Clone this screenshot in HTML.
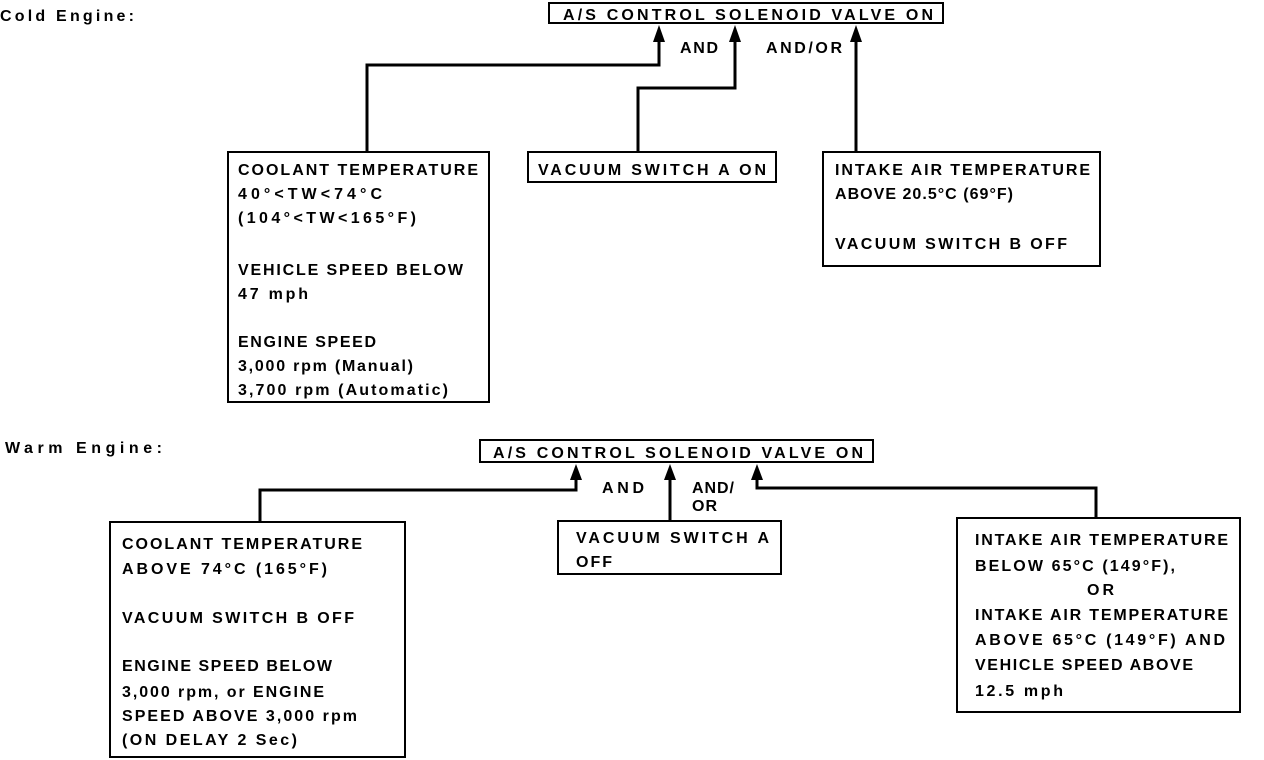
<!DOCTYPE html>
<html><head><meta charset="utf-8"><style>
body{margin:0;background:#fff}
svg{display:block}
text{font-family:"Liberation Sans",sans-serif;font-weight:bold;font-size:16px;fill:#000}
</style></head><body>
<svg width="1264" height="760" viewBox="0 0 1264 760" xmlns="http://www.w3.org/2000/svg">
<defs><marker id="a" markerWidth="8" markerHeight="12" refX="4" refY="1" orient="auto" markerUnits="userSpaceOnUse" viewBox="0 0 8 12">
</marker></defs>
<g fill="none" stroke="#000" stroke-width="2">
<rect x="549" y="3" width="394" height="20"/>
<rect x="228" y="152" width="261" height="250"/>
<rect x="528" y="152" width="248" height="30"/>
<rect x="823" y="152" width="277" height="114"/>
<rect x="480" y="440" width="393" height="22"/>
<rect x="110" y="522" width="295" height="235"/>
<rect x="558" y="521" width="223" height="53"/>
<rect x="957" y="518" width="283" height="194"/>
</g>
<g fill="none" stroke="#000" stroke-width="3">
<polyline points="367,152 367,65 659,65 659,38"/>
<polyline points="638,152 638,88 735,88 735,38"/>
<polyline points="856,152 856,38"/>
<polyline points="260,522 260,490 576,490 576,475"/>
<polyline points="670,521 670,475"/>
<polyline points="1096,518 1096,488 757,488 757,475"/>
</g>
<g fill="#000">
<polygon points="659,25 653,42 665,42"/>
<polygon points="735,25 729,42 741,42"/>
<polygon points="856,25 850,42 862,42"/>
<polygon points="576,464 570,480 582,480"/>
<polygon points="670,464 664,480 676,480"/>
<polygon points="757,464 751,480 763,480"/>
</g>
<text x="0" y="21" font-size="17" textLength="134">Cold Engine:</text>
<text x="5" y="453" font-size="17" textLength="157">Warm Engine:</text>
<text x="563" y="20" font-size="18" textLength="370">A/S CONTROL SOLENOID VALVE ON</text>
<text x="493" y="458" font-size="18" textLength="370">A/S CONTROL SOLENOID VALVE ON</text>
<text x="680" y="53" textLength="38">AND</text>
<text x="766" y="53" textLength="76">AND/OR</text>
<text x="602" y="493" textLength="42">AND</text>
<text x="692" y="493" textLength="42">AND/</text>
<text x="692" y="511" textLength="25">OR</text>
<g>
<text x="238" y="175" textLength="240">COOLANT TEMPERATURE</text>
<text x="238" y="199" textLength="144">40°&lt;TW&lt;74°C</text>
<text x="238" y="223" textLength="178">(104°&lt;TW&lt;165°F)</text>
<text x="238" y="275" textLength="225">VEHICLE SPEED BELOW</text>
<text x="238" y="299" textLength="70">47 mph</text>
<text x="238" y="347" textLength="138">ENGINE SPEED</text>
<text x="238" y="371" textLength="175">3,000 rpm (Manual)</text>
<text x="238" y="395" textLength="210">3,700 rpm (Automatic)</text>
<text x="538" y="175" textLength="228">VACUUM SWITCH A ON</text>
<text x="835" y="175" textLength="255">INTAKE AIR TEMPERATURE</text>
<text x="835" y="199" textLength="178">ABOVE 20.5°C (69°F)</text>
<text x="835" y="249" textLength="232">VACUUM SWITCH B OFF</text>
<text x="122" y="549" textLength="240">COOLANT TEMPERATURE</text>
<text x="122" y="574" textLength="205">ABOVE 74°C (165°F)</text>
<text x="122" y="623" textLength="232">VACUUM SWITCH B OFF</text>
<text x="122" y="671" textLength="210">ENGINE SPEED BELOW</text>
<text x="122" y="697" textLength="202">3,000 rpm, or ENGINE</text>
<text x="122" y="721" textLength="235">SPEED ABOVE 3,000 rpm</text>
<text x="122" y="745" textLength="175">(ON DELAY 2 Sec)</text>
<text x="576" y="543" textLength="193">VACUUM SWITCH A</text>
<text x="576" y="567" textLength="36">OFF</text>
<text x="975" y="545" textLength="253">INTAKE AIR TEMPERATURE</text>
<text x="975" y="571" textLength="200">BELOW 65°C (149°F),</text>
<text x="1087" y="595" textLength="27">OR</text>
<text x="975" y="620" textLength="253">INTAKE AIR TEMPERATURE</text>
<text x="975" y="645" textLength="250">ABOVE 65°C (149°F) AND</text>
<text x="975" y="670" textLength="218">VEHICLE SPEED ABOVE</text>
<text x="975" y="696" textLength="88">12.5 mph</text>
</g>
</svg>
</body></html>
